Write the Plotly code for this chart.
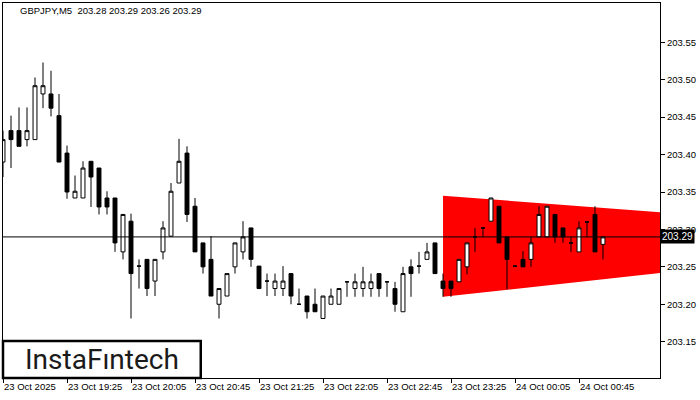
import plotly.graph_objects as go

# GBPJPY M5 candles (index 0 = 23 Oct 18:45)
opens = [203.390, 203.432, 203.432, 203.420, 203.420, 203.481, 203.481, 203.452, 203.402, 203.342,
         203.342, 203.391, 203.382, 203.342, 203.342, 203.270, 203.311, 203.251, 203.260, 203.231,
         203.270, 203.291, 203.362, 203.402, 203.331, 203.282, 203.260, 203.200, 203.211, 203.250,
         203.270, 203.302, 203.251, 203.231, 203.221, 203.221, 203.241, 203.200, 203.211, 203.200,
         203.181, 203.200, 203.200, 203.230, 203.221, 203.221, 203.221, 203.241, 203.230, 203.221,
         203.190, 203.250, 203.251, 203.260, 203.282, 203.231, 203.231, 203.230, 203.250, 203.290,
         203.302, 203.311, 203.331, 203.290, 203.251, 203.260, 203.260, 203.290, 203.290, 203.320,
         203.302, 203.282, 203.270, 203.310, 203.320, 203.280]
highs = [203.432, 203.452, 203.463, 203.463, 203.503, 203.523, 203.512, 203.481, 203.412, 203.372,
         203.391, 203.391, 203.382, 203.351, 203.342, 203.320, 203.321, 203.260, 203.260, 203.260,
         203.311, 203.362, 203.421, 203.411, 203.342, 203.282, 203.291, 203.221, 203.241, 203.282,
         203.311, 203.302, 203.251, 203.241, 203.241, 203.251, 203.241, 203.221, 203.211, 203.221,
         203.211, 203.221, 203.221, 203.230, 203.241, 203.250, 203.241, 203.241, 203.230, 203.230,
         203.250, 203.260, 203.270, 203.282, 203.282, 203.241, 203.231, 203.260, 203.282, 203.302,
         203.302, 203.342, 203.331, 203.290, 203.251, 203.271, 203.290, 203.331, 203.331, 203.320,
         203.302, 203.290, 203.311, 203.310, 203.331, 203.290]
lows = [203.370, 203.382, 203.411, 203.411, 203.420, 203.462, 203.451, 203.390, 203.341, 203.342,
        203.342, 203.330, 203.320, 203.320, 203.270, 203.260, 203.181, 203.221, 203.211, 203.211,
        203.260, 203.291, 203.362, 203.310, 203.270, 203.241, 203.211, 203.181, 203.211, 203.241,
        203.260, 203.250, 203.221, 203.211, 203.211, 203.211, 203.200, 203.200, 203.181, 203.190,
        203.181, 203.200, 203.200, 203.210, 203.210, 203.210, 203.210, 203.210, 203.210, 203.190,
        203.190, 203.210, 203.241, 203.260, 203.241, 203.210, 203.210, 203.230, 203.240, 203.270,
        203.290, 203.311, 203.282, 203.220, 203.251, 203.250, 203.250, 203.290, 203.290, 203.282,
        203.282, 203.270, 203.270, 203.290, 203.270, 203.260]
closes = [203.420, 203.420, 203.411, 203.432, 203.492, 203.492, 203.462, 203.390, 203.350, 203.351,
          203.382, 203.370, 203.330, 203.330, 203.282, 203.320, 203.241, 203.251, 203.221, 203.260,
          203.302, 203.351, 203.391, 203.320, 203.270, 203.250, 203.211, 203.221, 203.241, 203.282,
          203.290, 203.260, 203.221, 203.231, 203.231, 203.231, 203.211, 203.200, 203.190, 203.190,
          203.211, 203.211, 203.221, 203.230, 203.230, 203.230, 203.230, 203.221, 203.230, 203.200,
          203.241, 203.241, 203.251, 203.270, 203.241, 203.221, 203.221, 203.260, 203.282, 203.290,
          203.302, 203.342, 203.282, 203.260, 203.251, 203.250, 203.282, 203.320, 203.331, 203.290,
          203.290, 203.282, 203.302, 203.310, 203.270, 203.290]
idx = list(range(len(opens)))

tick_idx = [0, 8, 16, 24, 32, 40, 48, 56, 64, 72]
tick_text = ['23 Oct 2025', '23 Oct 19:25', '23 Oct 20:05', '23 Oct 20:45', '23 Oct 21:25',
             '23 Oct 22:05', '23 Oct 22:45', '23 Oct 23:25', '24 Oct 00:05', '24 Oct 00:45']

# symmetrical triangle pattern
tri_x = [55, 82.2]
tri_top = [203.345, 203.323]
tri_bottom = [203.210, 203.242]

last_price = 203.29

fig = go.Figure()

fig.add_trace(go.Candlestick(
    x=idx, open=opens, high=highs, low=lows, close=closes,
    increasing=dict(fillcolor='white', line=dict(color='black', width=1)),
    decreasing=dict(fillcolor='black', line=dict(color='black', width=1)),
    whiskerwidth=0, showlegend=False, hoverinfo='skip'
))

# triangle behind the candles
tri_path = (f'M {tri_x[0]},{tri_top[0]} L {tri_x[1]},{tri_top[1]} '
            f'L {tri_x[1]},{tri_bottom[1]} L {tri_x[0]},{tri_bottom[0]} Z')
fig.add_shape(type='path', path=tri_path, xref='x', yref='y',
              fillcolor='#ff0000', line=dict(width=0), layer='below')

# current price line
fig.add_shape(type='line', xref='paper', x0=0, x1=1, yref='y', y0=last_price, y1=last_price,
              line=dict(color='black', width=1), layer='above')

fig.add_annotation(text=f'{last_price:.2f}', xref='paper', x=1, y=last_price, yref='y',
                   xanchor='left', yanchor='middle', showarrow=False,
                   bgcolor='black', font=dict(color='white', size=10, family='Liberation Sans'),
                   borderpad=1)

fig.add_annotation(text='GBPJPY,M5  203.28 203.29 203.26 203.29', xref='paper', yref='paper',
                   x=0.023, y=0.979, xanchor='left', yanchor='middle', showarrow=False,
                   font=dict(size=9.5, color='black', family='Liberation Sans'))

# logo box
fig.add_shape(type='rect', xref='paper', yref='paper', x0=0, x1=0.301, y0=0, y1=0.099,
              line=dict(color='black', width=2.5), fillcolor='white', layer='above')
fig.add_annotation(text='InstaF\u0131ntech', xref='paper', yref='paper', x=0.15, y=0.05,
                   xanchor='center', yanchor='middle', showarrow=False,
                   font=dict(size=28, color='#1a1a1a', family='Roboto'))

fig.update_layout(
    width=700, height=400,
    margin=dict(l=3, r=40, t=3, b=22),
    paper_bgcolor='white', plot_bgcolor='white',
    font=dict(family='Liberation Sans', size=9.5, color='black'),
    xaxis=dict(range=[0, 82.125], rangeslider=dict(visible=False), showgrid=False, zeroline=False,
               tickmode='array', tickvals=tick_idx, ticktext=tick_text,
               ticks='outside', ticklen=4, tickcolor='black', ticklabelposition='outside right',
               showline=True, linecolor='black', linewidth=1, mirror=True),
    yaxis=dict(range=[203.1015, 203.6025], side='right', showgrid=False, zeroline=False,
               tickmode='array', tickvals=[203.15, 203.20, 203.25, 203.30, 203.35, 203.40, 203.45, 203.50, 203.55],
               tickformat='.2f', ticks='outside', ticklen=4, tickcolor='black',
               showline=True, linecolor='black', linewidth=1, mirror=True),
)

fig.write_html("out.html", config={'displayModeBar': False},
               post_script="document.body.style.margin='0px';")
